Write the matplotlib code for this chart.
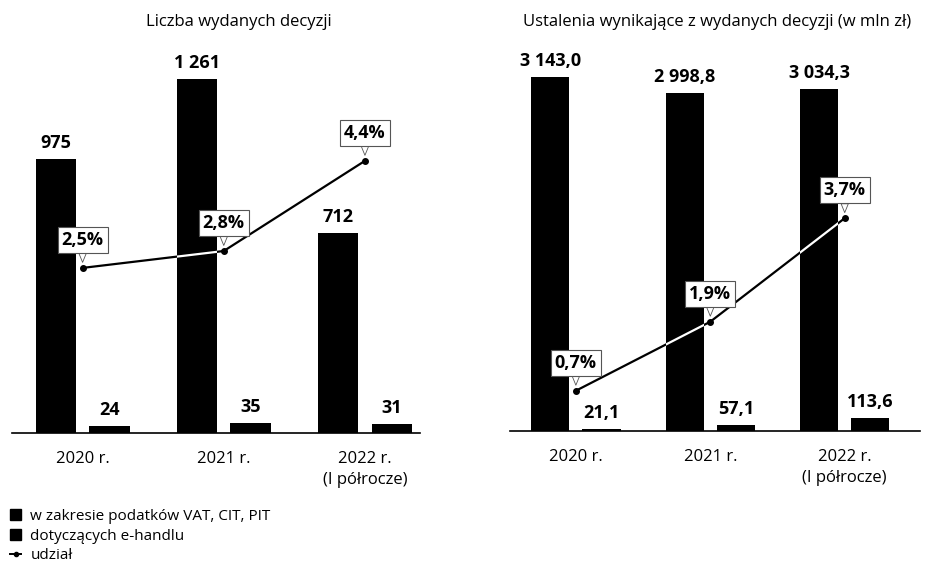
import matplotlib.pyplot as plt
import numpy as np
from matplotlib.patches import Patch
from matplotlib.lines import Line2D

plt.rcParams['font.family'] = ['Open Sans', 'DejaVu Sans']

lata = ['2020 r.', '2021 r.', '2022 r.\n(I półrocze)']

# Liczba wydanych decyzji
decyzje_ogolem = [975, 1261, 712]
decyzje_ehandel = [24, 35, 31]
udzial_decyzje = [2.5, 2.8, 4.4]

# Ustalenia (w mln zł)
ustalenia_ogolem = [3143.0, 2998.8, 3034.3]
ustalenia_ehandel = [21.1, 57.1, 113.6]
udzial_ustalenia = [0.7, 1.9, 3.7]


def fmt_int(v):
    return '{:,}'.format(v).replace(',', ' ')


def fmt_dec(v):
    s = '{:,.1f}'.format(v)
    return s.replace(',', ' ').replace('.', ',')


def panel(rect, duze, male, udzial, fmt, ylim, ylim2, xlim, tytul, tx):
    ax = fig.add_axes(rect)
    x = np.arange(len(lata))
    w = 0.285
    b1 = ax.bar(x - 0.19, duze, w, color='black')
    b2 = ax.bar(x + 0.19, male, w, color='black')
    for xi, v in zip(x, duze):
        ax.annotate(fmt(v), (xi - 0.19, v), xytext=(0, 5), textcoords='offset points',
                    ha='center', va='bottom', fontsize=13, fontweight='bold')
    for xi, v in zip(x, male):
        ax.annotate(fmt(v), (xi + 0.19, v), xytext=(0, 5), textcoords='offset points',
                    ha='center', va='bottom', fontsize=13, fontweight='bold')
    ax.set_xlim(*xlim)
    ax.set_ylim(*ylim)
    ax.set_xticks(x)
    ax.set_xticklabels(lata, fontsize=12, linespacing=1.45, va='top')
    ax.tick_params(axis='x', length=0, pad=13)
    ax.set_yticks([])
    for s in ['top', 'left', 'right']:
        ax.spines[s].set_visible(False)
    ax.spines['bottom'].set_linewidth(1.2)
    fig.text(tx, 1 - 22 / 567, tytul, fontsize=12, ha='center', va='center')

    ax2 = ax.twinx()
    ax2.set_ylim(*ylim2)
    ax2.axis('off')
    ax2.plot(x, udzial, color='black', lw=1.6, marker='o', ms=4, zorder=3)
    # bialy odcinek linii na czarnych slupkach
    for bar in b1:
        ln, = ax2.plot(x, udzial, color='white', lw=1.6, zorder=4)
        ln.set_clip_path(bar)
    for xi, v in zip(x, udzial):
        ax2.annotate(('%.1f%%' % v).replace('.', ','), xy=(xi, v),
                     xytext=(0, 20), textcoords='offset points',
                     ha='center', va='center', fontsize=13, fontweight='bold',
                     bbox=dict(boxstyle='square,pad=0.22', fc='white', ec='#555555', lw=0.8),
                     arrowprops=dict(arrowstyle='wedge,tail_width=0.4', fc='white',
                                     ec='#555555', lw=0.6, shrinkA=0, shrinkB=4),
                     zorder=5)
    return ax


fig = plt.figure(figsize=(9.27, 5.67), dpi=100)

panel([12 / 927, 134 / 567, 408 / 927, 373 / 567],
      decyzje_ogolem, decyzje_ehandel, udzial_decyzje, fmt_int,
      (0, 1329), (-0.43, 6.19), (-0.5, 2.39), 'Liczba wydanych decyzji', 239 / 927)
panel([510 / 927, 136 / 567, 410 / 927, 371 / 567],
      ustalenia_ogolem, ustalenia_ehandel, udzial_ustalenia, fmt_dec,
      (0, 3295), (0, 6.45), (-0.49, 2.56),
      'Ustalenia wynikające z wydanych decyzji (w mln zł)', 717 / 927)

handles = [Patch(fc='black', ec='black'), Patch(fc='black', ec='black'),
           Line2D([], [], color='black', lw=1.4, marker='o', ms=3)]
fig.legend(handles, ['w zakresie podatków VAT, CIT, PIT', 'dotyczących e-handlu', 'udział'],
           loc='upper left', bbox_to_anchor=(0.004, 0.113), frameon=False,
           fontsize=11, handlelength=0.75, handleheight=0.75, handletextpad=0.6,
           labelspacing=0.3, borderaxespad=0)

fig.savefig('out.png', dpi=100)
